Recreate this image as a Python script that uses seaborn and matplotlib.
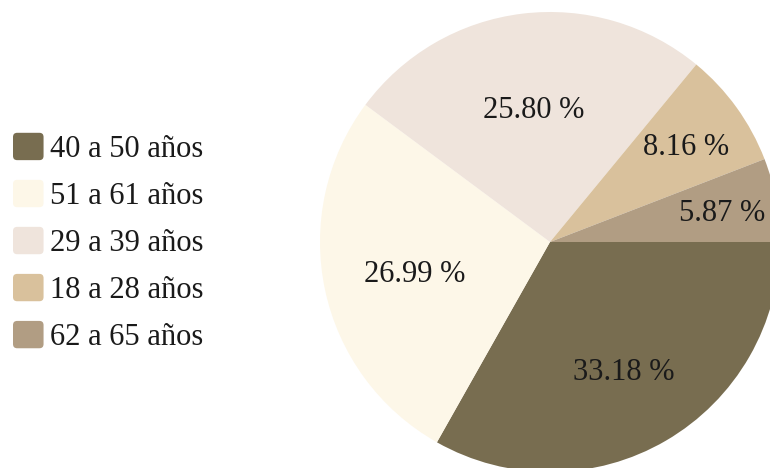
import matplotlib
matplotlib.use("Agg")
import matplotlib.pyplot as plt
import seaborn as sns
import numpy as np
from matplotlib.patches import FancyBboxPatch
from matplotlib.legend_handler import HandlerPatch

# Age-group shares (percent)
grupos = ["40 a 50 años", "51 a 61 años", "29 a 39 años", "18 a 28 años", "62 a 65 años"]
porcentajes = [33.18, 26.99, 25.80, 8.16, 5.87]
colores = ["#786d50", "#fdf7e8", "#efe4dc", "#d9c19c", "#b19d83"]
# radial position of each percentage label, as a fraction of the radius
pos_etiqueta = [0.64, 0.60, 0.59, 0.73, 0.76]

sns.set_theme(style="white")
plt.rcParams["font.family"] = ["Liberation Serif", "DejaVu Serif"]

palette = sns.color_palette(colores)

fig = plt.figure(figsize=(7.7, 4.68), dpi=100)
ax = fig.add_axes([0, 0, 1, 1])

wedges, _ = ax.pie(porcentajes, colors=palette, startangle=0, counterclock=False,
                   radius=1.0, wedgeprops=dict(linewidth=0))

for w, pct, rf in zip(wedges, porcentajes, pos_etiqueta):
    ang = np.deg2rad((w.theta1 + w.theta2) / 2)
    ax.text(rf * np.cos(ang), rf * np.sin(ang), f"{pct:.2f} %",
            ha="center", va="center_baseline", fontsize=22, color="#1a1a1a")

# place the pie centre near the right, clipped by the figure edges
r_px = 230.0
cx, cy = 550.0, 226.0
ax.set_xlim(-cx / r_px, (770 - cx) / r_px)
ax.set_ylim(-cy / r_px, (468 - cy) / r_px)
ax.set_aspect("auto")
ax.axis("off")


class RoundSquare(HandlerPatch):
    def create_artists(self, legend, orig_handle, xdescent, ydescent, width, height,
                       fontsize, trans):
        p = FancyBboxPatch((-xdescent, -ydescent), width, height,
                           boxstyle="round,pad=0,rounding_size=3",
                           facecolor=orig_handle.get_facecolor(), edgecolor="none",
                           transform=trans)
        return [p]


leg = fig.legend(wedges, grupos, loc="center left", bbox_to_anchor=(13 / 770, 0.482),
                 frameon=False, fontsize=22, handlelength=1.0, handleheight=1.0,
                 handletextpad=0.2, labelspacing=0.52, borderaxespad=0, borderpad=0,
                 handler_map={w: RoundSquare() for w in wedges})
for t in leg.get_texts():
    t.set_color("#1a1a1a")

fig.savefig("out.png", dpi=100, facecolor="white")
